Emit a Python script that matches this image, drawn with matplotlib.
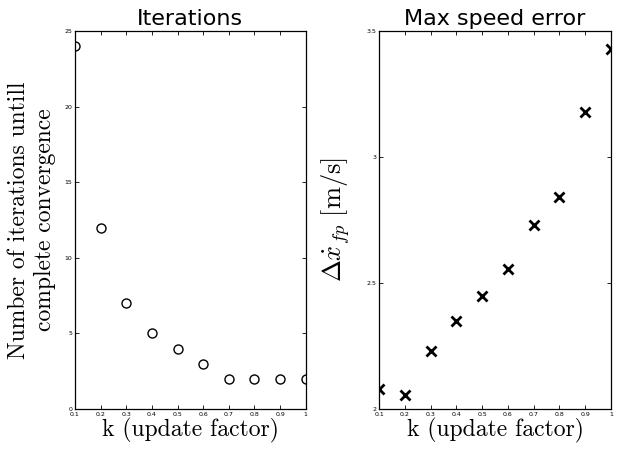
import numpy as np
import matplotlib
matplotlib.use('Agg')
import matplotlib.pyplot as plt

# Данные
k = [0.1, 0.2, 0.3, 0.4, 0.5, 0.6, 0.7, 0.8, 0.9, 1.0]
iterations = [24, 12, 7, 5, 4, 3, 2, 2, 2, 2]
speed_err = [2.08, 2.056, 2.23, 2.35, 2.45, 2.555, 2.73, 2.84, 3.18, 3.43]
xticks = [0.1, 0.2, 0.3, 0.4, 0.5, 0.6, 0.7, 0.8, 0.9, 1]
xticklabels = ['0.1', '0.2', '0.3', '0.4', '0.5', '0.6', '0.7', '0.8', '0.9', '1']

plt.rcParams['mathtext.fontset'] = 'cm'
serif = {'family': 'cmr10', 'size': 17}

fig = plt.figure(figsize=(6.27, 4.49), dpi=100)
ax1 = fig.add_axes([0.1196, 0.0891, 0.368, 0.842])
ax2 = fig.add_axes([0.6045, 0.0891, 0.370, 0.842])

ax1.plot(k, iterations, 'o', color='black', markerfacecolor='none', markersize=6.5, markeredgewidth=1.0)
ax1.set_ylim(0, 25)
ax1.set_yticks([0, 5, 10, 15, 20, 25])
ax1.set_title('Iterations', fontsize=16, pad=4)
ax1.set_ylabel('Number of iterations untill\ncomplete convergence', fontdict=serif, labelpad=6, linespacing=1.25)

ax2.plot(k, speed_err, 'x', color='black', markersize=7, markeredgewidth=2.0)
ax2.set_ylim(2, 3.5)
ax2.set_yticks([2, 2.5, 3, 3.5])
ax2.set_yticklabels(['2', '2.5', '3', '3.5'])
ax2.set_title('Max speed error', fontsize=16, pad=4)
ax2.set_ylabel(r'$\Delta\dot{x}_{fp}\ [\mathrm{m/s}]$', fontsize=19, labelpad=10)

for ax in (ax1, ax2):
    ax.set_xlim(0.1, 1)
    ax.set_xticks(xticks)
    ax.set_xticklabels(xticklabels)
    ax.set_xlabel('k (update factor)', fontdict=serif, labelpad=0)
    ax.tick_params(direction='in', length=3, width=0.6, labelsize=4.5,
                   top=True, right=True)
    ax.tick_params(axis='x', pad=2.5)
    ax.tick_params(axis='y', pad=2)
    for s in ax.spines.values():
        s.set_linewidth(0.9)

plt.savefig('out.png', dpi=100)
